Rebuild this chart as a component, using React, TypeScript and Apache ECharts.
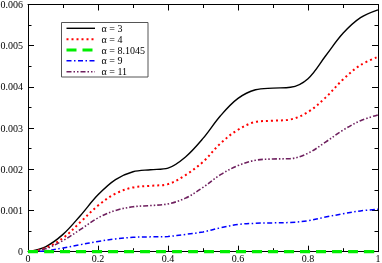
import React, { useEffect, useRef } from "react";
import * as echarts from "echarts";

const xs = [0, 0.05, 0.1, 0.15, 0.2, 0.25, 0.3, 0.35, 0.4, 0.45, 0.5, 0.55, 0.6, 0.65, 0.7, 0.75, 0.8, 0.85, 0.9, 0.95, 1.0];
// values in units of 0.001
const alpha3 = [0, 0.12, 0.42, 0.88, 1.38, 1.75, 1.94, 1.99, 2.03, 2.3, 2.75, 3.3, 3.72, 3.93, 3.97, 3.99, 4.2, 4.75, 5.3, 5.68, 5.87];
const alpha4 = [0, 0.09, 0.33, 0.72, 1.12, 1.41, 1.56, 1.6, 1.64, 1.86, 2.18, 2.63, 2.96, 3.15, 3.18, 3.21, 3.39, 3.74, 4.18, 4.53, 4.73];
const alpha81045 = [0, 0, 0, 0, 0, 0, 0, 0, 0, 0, 0, 0, 0, 0, 0, 0, 0, 0, 0, 0, 0];
const alpha9 = [0, 0.02, 0.09, 0.17, 0.25, 0.31, 0.35, 0.36, 0.37, 0.42, 0.48, 0.58, 0.66, 0.69, 0.7, 0.71, 0.75, 0.84, 0.92, 0.99, 1.03];
const alpha11 = [0, 0.07, 0.27, 0.54, 0.82, 1.0, 1.09, 1.12, 1.16, 1.3, 1.56, 1.87, 2.09, 2.22, 2.25, 2.26, 2.39, 2.66, 2.95, 3.18, 3.32];
const seriesNames = ["α = 3", "α = 4", "α = 8.1045", "α = 9", "α = 11"];

const FONT = "'Liberation Serif', 'DejaVu Serif', serif";

const styles: { color: string; width: number; dash: number[] | null }[] = [
  { color: "#000000", width: 1.4, dash: null },
  { color: "#ff0000", width: 2, dash: [2, 3] },
  { color: "#00ee00", width: 3.2, dash: [10, 6] },
  { color: "#0000ff", width: 1.5, dash: [5, 2.5, 1.5, 2.5] },
  { color: "#6e1f5e", width: 1.6, dash: [5, 2, 1.5, 2, 1.5, 2] },
];

function pts(vals: number[]) {
  return xs.map((x, i) => [x, vals[i] / 1000]);
}

export default function App() {
  const ref = useRef<HTMLDivElement>(null);
  useEffect(() => {
    if (!ref.current) return;
    const chart = echarts.init(ref.current, null, { renderer: "svg" });
    const axisCommon = {
      type: "value" as const,
      axisLine: { show: true, onZero: false, lineStyle: { color: "#000", width: 1 } },
      axisTick: { show: true, inside: true, length: 6, lineStyle: { color: "#000" } },
      minorTick: { show: true, splitNumber: 2, length: 3.5, lineStyle: { color: "#000" } },
      splitLine: { show: false },
      minorSplitLine: { show: false },
    };
    const allVals = [alpha3, alpha4, alpha81045, alpha9, alpha11];
    const series = allVals.map((vals, i) => ({
      name: seriesNames[i],
      type: "line",
      data: pts(vals),
      showSymbol: false,
      symbol: "none",
      smooth: 0.35,
      clip: false,
      z: i === 2 ? 4 : 2,
      lineStyle: {
        color: styles[i].color,
        width: styles[i].width,
        type: styles[i].dash ? styles[i].dash : "solid",
        cap: "butt",
      },
      itemStyle: { color: styles[i].color },
    }));

    // legend drawn as graphic elements
    const lx = 61.5, ly = 22.5, lw = 86.5, lh = 54.5;
    const legendEls: any[] = [
      {
        type: "rect",
        shape: { x: lx, y: ly, width: lw, height: lh },
        style: { fill: "#fff", stroke: "#555", lineWidth: 1 },
        z: 10,
      },
    ];
    seriesNames.forEach((name, i) => {
      const y = 28.3 + i * 10.85;
      legendEls.push({
        type: "line",
        shape: { x1: 66.5, y1: y, x2: 95, y2: y },
        style: {
          stroke: styles[i].color,
          lineWidth: styles[i].width,
          lineDash: styles[i].dash || undefined,
        },
        z: 11,
      });
      legendEls.push({
        type: "text",
        x: 101.5,
        y: y,
        style: {
          text: name,
          fill: "#000",
          fontFamily: FONT,
          fontSize: 10,
          verticalAlign: "middle",
          align: "left",
        },
        z: 11,
      });
    });

    chart.setOption({
      animation: false,
      grid: { left: 28, right: 4, top: 4.5, bottom: 11.3, containLabel: false, outerBoundsMode: "none" },
      xAxis: [
        {
          ...axisCommon,
          position: "bottom",
          min: 0,
          max: 1,
          interval: 0.2,
          axisLabel: {
            show: true,
            margin: 2,
            fontFamily: FONT,
            fontSize: 10,
            color: "#000",
            formatter: (v: number) => (v === 0 ? "0" : String(Math.round(v * 10) / 10)),
          },
        },
        {
          ...axisCommon,
          position: "top",
          min: 0,
          max: 1,
          interval: 0.2,
          axisLabel: { show: false },
        },
      ],
      yAxis: [
        {
          ...axisCommon,
          position: "left",
          min: 0,
          max: 0.006,
          interval: 0.001,
          axisLabel: {
            show: true,
            margin: 5,
            fontFamily: FONT,
            fontSize: 10,
            color: "#000",
            formatter: (v: number) => (v === 0 ? "0" : v.toFixed(3)),
          },
        },
        {
          ...axisCommon,
          position: "right",
          min: 0,
          max: 0.006,
          interval: 0.001,
          axisLabel: { show: false },
        },
      ],
      graphic: legendEls,
      series,
    });
    return () => chart.dispose();
  }, []);
  return (
    <div
      ref={ref}
      style={{ position: "fixed", left: 0, top: 0, width: 382, height: 263 }}
    />
  );
}
